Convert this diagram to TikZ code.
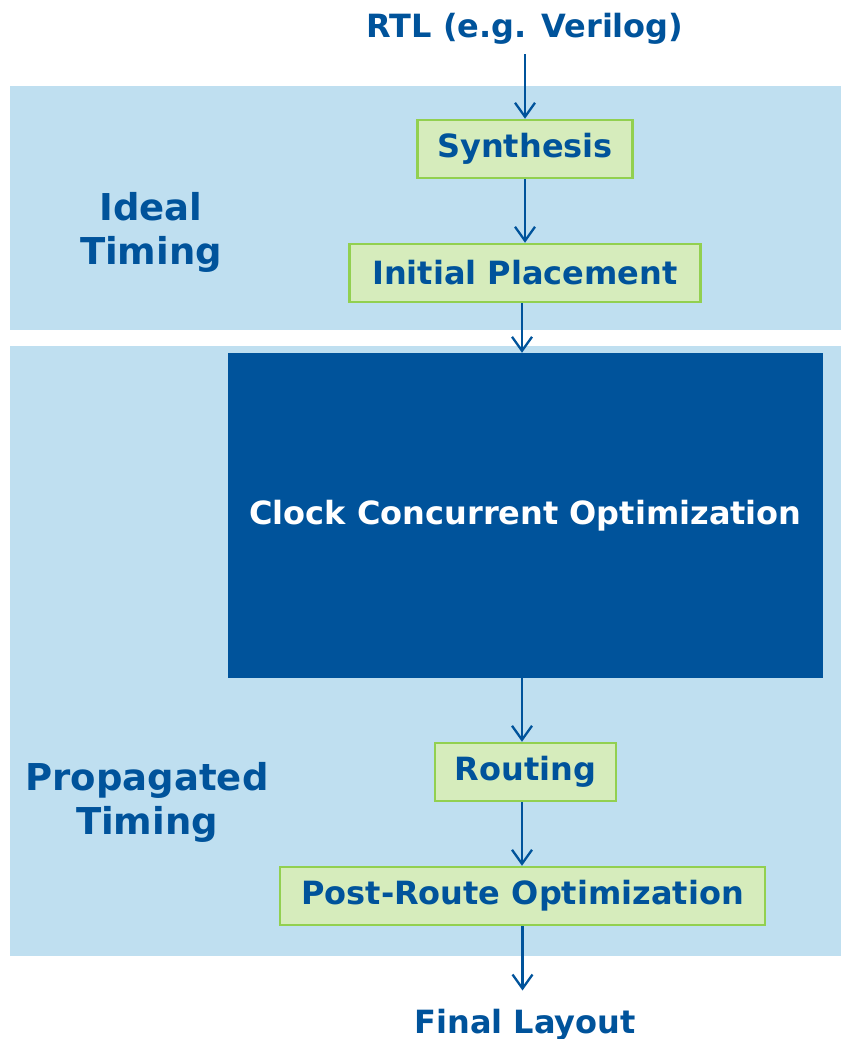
\documentclass[tikz,border=0pt]{standalone}
\usepackage{fontspec}
\setmainfont{DejaVu Sans}
\definecolor{flowblue}{RGB}{0, 83, 155}
\definecolor{bandblue}{RGB}{191, 223, 240}
\definecolor{stepgreen}{RGB}{214, 236, 188}
\definecolor{stepedge}{RGB}{146, 208, 80}
\usetikzlibrary{arrows.meta,positioning}

\tikzset{
  bigtext/.style={font=\bfseries\fontsize{32}{44}\selectfont, text=flowblue},
  sidetext/.style={font=\bfseries\fontsize{37}{44}\selectfont, text=flowblue, align=center},
  stepbox/.style={rectangle, draw=stepedge, fill=stepgreen, line width=2.5pt, bigtext, minimum height=58pt, inner sep=0pt},
  flow/.style={-{Straight Barb[length=14pt,width=20pt]}, line width=2.3pt, flowblue}
}

\begin{document}
\begin{tikzpicture}[x=1pt, y=-1pt]
    \useasboundingbox (0,0) rectangle (841,1039);

    % timing bands
    \fill[bandblue] (10,86) rectangle (841,330);
    \fill[bandblue] (10,346) rectangle (841,956);

    \node[sidetext] (ideal) at (151,232) {Ideal\\Timing};
    \node[sidetext] (propagated) at (147,802) {Propagated\\Timing};

    \node[bigtext, anchor=base, inner sep=10pt] (rtl) at (525,37) {RTL (e.g. Verilog)};
    \node[stepbox, minimum width=215pt] (synth) at (525,149) {Synthesis};
    \node[stepbox, minimum width=351pt] (place) at (525,273) {Initial Placement};
    \node[rectangle, fill=flowblue, minimum width=595pt, minimum height=325pt, inner sep=0pt,
          font=\bfseries\fontsize{32}{44}\selectfont, text=white] (cco) at (525.5,515.5) {Clock Concurrent Optimization};
    \node[stepbox, minimum width=181pt] (route) at (525.5,772) {Routing};
    \node[stepbox, minimum width=485pt] (post) at (522.5,896) {Post-Route Optimization};
    \node[bigtext, anchor=base, inner sep=18pt] (final) at (525,1033) {Final Layout};

    \draw[flow] (rtl.south) -- (synth.north);
    \draw[flow] (synth) -- (place);
    \draw[flow] (place.south -| 522,0) -- (cco.north -| 522,0);
    \draw[flow] (cco.south -| 522,0) -- (route.north -| 522,0);
    \draw[flow] (route.south -| 522,0) -- (post.north -| 522,0);
    \draw[flow] (post.south) -- (post.south |- final.north);
\end{tikzpicture}
\end{document}
